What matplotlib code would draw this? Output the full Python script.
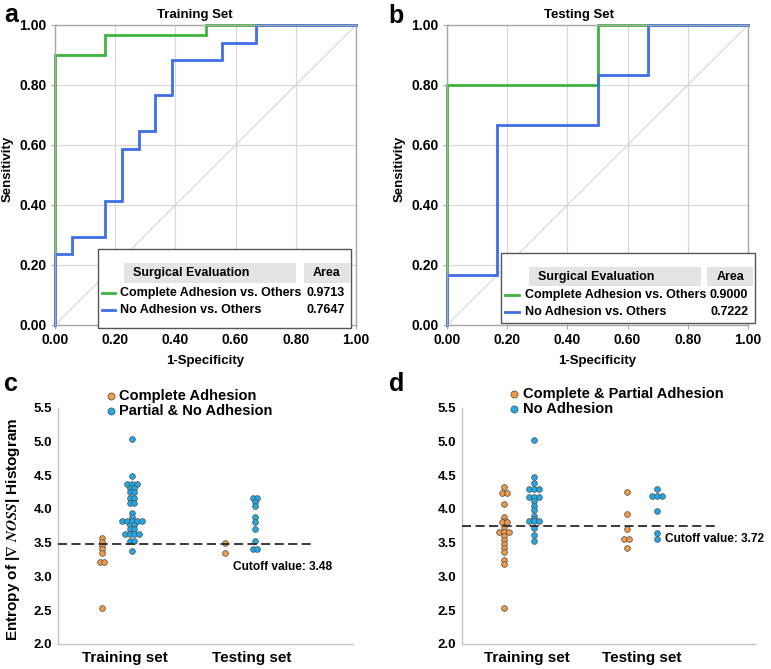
import matplotlib
matplotlib.use('Agg')
import matplotlib.pyplot as plt
from matplotlib.patches import Rectangle
import numpy as np

plt.rcParams['font.family'] = ['Liberation Sans', 'DejaVu Sans']
plt.rcParams['font.weight'] = 'bold'
plt.rcParams['mathtext.fontset'] = 'stix'

# ---------------- data ----------------
# ROC curves (1-specificity, sensitivity)
train_complete_fpr = [0, 0, 0.167, 0.167, 0.5, 0.5, 1.0]
train_complete_tpr = [0, 0.9, 0.9, 0.967, 0.967, 1.0, 1.0]
train_none_fpr = [0, 0, 0.056, 0.056, 0.167, 0.167, 0.222, 0.222, 0.278, 0.278,
                  0.333, 0.333, 0.389, 0.389, 0.556, 0.556, 0.667, 0.667, 1.0]
train_none_tpr = [0, 0.235, 0.235, 0.294, 0.294, 0.412, 0.412, 0.588, 0.588, 0.647,
                  0.647, 0.765, 0.765, 0.882, 0.882, 0.941, 0.941, 1.0, 1.0]
test_complete_fpr = [0, 0, 0.5, 0.5, 1.0]
test_complete_tpr = [0, 0.8, 0.8, 1.0, 1.0]
test_none_fpr = [0, 0, 0.167, 0.167, 0.5, 0.5, 0.667, 0.667, 1.0]
test_none_tpr = [0, 0.167, 0.167, 0.667, 0.667, 0.833, 0.833, 1.0, 1.0]

roc_labels = ['Complete Adhesion vs. Others', 'No Adhesion vs. Others']
train_auc = ['0.9713', '0.7647']
test_auc = ['0.9000', '0.7222']

# Dot plots (entropy values)
c_train_orange = [3.57, 3.51, 3.45, 3.40, 3.35, 3.21, 3.21, 2.53]
c_train_blue = [5.04, 4.49, 4.37, 4.37, 4.37, 4.31, 4.31, 4.25, 4.25, 4.16, 4.16,
                4.09, 4.09, 3.94, 3.88, 3.82, 3.82, 3.82, 3.82, 3.82, 3.76, 3.76,
                3.70, 3.70, 3.63, 3.63, 3.63, 3.63, 3.53, 3.53, 3.38]
c_test_orange = [3.49, 3.35]
c_test_blue = [4.16, 4.16, 4.10, 4.04, 3.88, 3.81, 3.71, 3.53, 3.41, 3.41]

d_train_orange = [4.32, 4.24, 4.24, 4.07, 3.88, 3.82, 3.80, 3.80, 3.73, 3.66, 3.66,
                  3.66, 3.60, 3.54, 3.48, 3.42, 3.36, 3.24, 3.18, 2.53]
d_train_blue = [5.02, 4.48, 4.38, 4.30, 4.30, 4.30, 4.18, 4.18, 4.18, 4.12, 4.05,
                3.98, 3.90, 3.85, 3.82, 3.82, 3.82, 3.72, 3.62, 3.52]
d_test_orange = [4.25, 3.93, 3.71, 3.55, 3.55, 3.42]
d_test_blue = [4.29, 4.19, 4.19, 4.19, 3.97, 3.65, 3.55]

c_legend = ['Complete Adhesion', 'Partial & No Adhesion']
d_legend = ['Complete & Partial Adhesion', 'No Adhesion']
c_cutoff = 3.48
d_cutoff = 3.75
c_cutoff_label = 'Cutoff value: 3.48'
d_cutoff_label = 'Cutoff value: 3.72'
set_labels = ['Training set', 'Testing set']

GREEN = '#3cb43c'
BLUE = '#3f6ee6'
ORANGE = '#f39a44'
SKY = '#1eaaea'
W, H = 771, 669

fig = plt.figure(figsize=(W / 100, H / 100), dpi=100)


def fax(l, t, r, b):
    return fig.add_axes([l / W, 1 - b / H, (r - l) / W, (b - t) / H])


def roc_panel(ax, curves, title, title_x, legend_cfg, aucs):
    ax.set_xlim(0, 1)
    ax.set_ylim(0, 1)
    ticks = np.arange(0, 1.01, 0.2)
    ax.set_xticks(ticks)
    ax.set_yticks(ticks)
    ax.set_xticklabels(['%.2f' % t for t in ticks])
    ax.set_yticklabels(['%.2f' % t for t in ticks])
    ax.grid(True, color='#d8d8d8', lw=0.9)
    ax.set_axisbelow(True)
    for s in ax.spines.values():
        s.set_color('#a8a8a8')
        s.set_linewidth(1.0)
    ax.tick_params(axis='both', length=3, color='#a8a8a8', labelsize=10, pad=3)
    ax.plot([0, 1], [0, 1], color='#d8d8d8', lw=0.9)
    for (fx, ty, col) in curves:
        ax.plot(fx, ty, color=col, lw=2.0, solid_joinstyle='miter', clip_on=False)
    ax.set_title(title, fontsize=9.5, fontweight='bold', x=title_x, pad=5)
    ax.set_xlabel('1-Specificity', fontsize=9.5, fontweight='bold')
    ax.xaxis.set_label_coords(0.5, -0.10)
    ax.set_ylabel('Sensitivity', fontsize=9.5, fontweight='bold')
    ax.yaxis.set_label_coords(-0.138, 0.52)
    # legend table
    bx0, bx1, by0, by1, h1, h2, hy0, hy1, rows, seg, tx, vr = legend_cfg
    tr = ax.transAxes
    ax.add_patch(Rectangle((bx0, by0), bx1 - bx0, by1 - by0, transform=tr, facecolor='white',
                           edgecolor='#555555', lw=1.0, zorder=5, clip_on=False))
    ax.add_patch(Rectangle((h1[0], hy0), h1[1] - h1[0], hy1 - hy0, transform=tr,
                           facecolor='#e4e4e4', edgecolor='none', zorder=6, clip_on=False))
    ax.add_patch(Rectangle((h2[0], hy0), h2[1] - h2[0], hy1 - hy0, transform=tr,
                           facecolor='#e4e4e4', edgecolor='none', zorder=6, clip_on=False))
    hy = (hy0 + hy1) / 2
    ax.text(h1[0] + 0.03, hy, 'Surgical Evaluation', transform=tr, fontsize=9, fontweight='bold',
            va='center', ha='left', zorder=7)
    ax.text((h2[0] + h2[1]) / 2, hy, 'Area', transform=tr, fontsize=9, fontweight='bold',
            va='center', ha='center', zorder=7)
    for ry, lab, a, col in zip(rows, roc_labels, aucs, [GREEN, BLUE]):
        ax.plot(seg, [ry, ry], color=col, lw=2.0, transform=tr, zorder=7, clip_on=False)
        ax.text(tx, ry, lab, transform=tr, fontsize=9, fontweight='bold', va='center',
                ha='left', zorder=7)
        ax.text(vr, ry, a, transform=tr, fontsize=9, fontweight='bold', va='center',
                ha='right', zorder=7)


ax_a = fax(55, 25, 356, 325)
roc_panel(ax_a, [(train_complete_fpr, train_complete_tpr, GREEN),
                 (train_none_fpr, train_none_tpr, BLUE)],
          'Training Set', 0.465,
          (0.142, 0.982, -0.01, 0.252, (0.229, 0.801), (0.827, 0.980), 0.140, 0.206,
           (0.107, 0.050), (0.156, 0.199), 0.216, 0.963), train_auc)

ax_b = fax(447, 25, 748, 325)
roc_panel(ax_b, [(test_complete_fpr, test_complete_tpr, GREEN),
                 (test_none_fpr, test_none_tpr, BLUE)],
          'Testing Set', 0.44,
          (0.181, 1.022, 0.008, 0.239, (0.271, 0.843), (0.865, 1.017), 0.129, 0.194,
           (0.100, 0.042), (0.194, 0.238), 0.258, 1.0), test_auc)

SPACING = 0.0165


def rows(ax, xc, vals, color):
    xs, ys = [], []
    uniq = []
    for v in vals:
        if v not in uniq:
            uniq.append(v)
    for v in uniq:
        n = vals.count(v)
        for i in range(n):
            xs.append(xc + (i - (n - 1) / 2) * SPACING)
            ys.append(v)
    ax.scatter(xs, ys, s=17, c=color, edgecolors='#555555', linewidths=0.55, zorder=3)


def dot_panel(ax, groups, xticks, cutoff, cutoff_end, cut_label, cut_xy, legend, leg_cfg, ylabel):
    ax.set_xlim(0, 1)
    ax.set_ylim(2.0, 5.5)
    ax.set_yticks(np.arange(2.0, 5.51, 0.5))
    ax.set_yticklabels(['%.1f' % v for v in np.arange(2.0, 5.51, 0.5)])
    ax.set_xticks(xticks)
    ax.set_xticklabels(set_labels)
    ax.tick_params(axis='y', length=0, labelsize=9.5, pad=4)
    ax.tick_params(axis='x', length=0, labelsize=11, pad=5)
    for s in ['top', 'right']:
        ax.spines[s].set_visible(False)
    for s in ['left', 'bottom']:
        ax.spines[s].set_color('#c4c4c4')
        ax.spines[s].set_linewidth(1.0)
    for xc, vals, col in groups:
        rows(ax, xc, vals, col)
    ax.plot([0, cutoff_end], [cutoff, cutoff], color='#2a2a2a', lw=1.3,
            dashes=(5, 2.5), zorder=4)
    ax.text(cut_xy[0], cut_xy[1], cut_label, fontsize=8.6, fontweight='bold',
            va='center', ha='left')
    mx, tx, y1, y2 = leg_cfg
    for lab, col, yy in zip(legend, [ORANGE, SKY], [y1, y2]):
        ax.scatter([mx], [yy], s=26, c=col, edgecolors='#555555', linewidths=0.55,
                   transform=ax.transAxes, clip_on=False)
        ax.text(tx, yy, lab, transform=ax.transAxes, fontsize=10.5, fontweight='bold',
                va='center', ha='left')
    if ylabel:
        ax.set_ylabel(ylabel, fontsize=11, fontweight='bold')
        ax.yaxis.set_label_coords(-0.122, 0.487)


ax_c = fax(58, 407.7, 353, 644)
dot_panel(ax_c, [(0.149, c_train_orange, ORANGE), (0.251, c_train_blue, SKY),
                 (0.566, c_test_orange, ORANGE), (0.668, c_test_blue, SKY)],
          [0.227, 0.658], c_cutoff, 0.864, c_cutoff_label, (0.592, 3.14),
          c_legend, (0.180, 0.208, 1.0495, 0.986),
          r'Entropy of |$\nabla$ $\mathit{NOSS}$| Histogram')

ax_d = fax(461.7, 407.7, 755, 644)
dot_panel(ax_d, [(0.145, d_train_orange, ORANGE), (0.247, d_train_blue, SKY),
                 (0.563, d_test_orange, ORANGE), (0.665, d_test_blue, SKY)],
          [0.222, 0.614], d_cutoff, 0.869, d_cutoff_label, (0.693, 3.55),
          d_legend, (0.179, 0.21, 1.058, 0.993), None)

for letter, x, y in [('a', 4, 22), ('b', 388, 23), ('c', 4, 391), ('d', 389, 391)]:
    fig.text(x / W, 1 - y / H, letter, fontsize=18, fontweight='bold', va='baseline', ha='left')

fig.savefig('out.png', dpi=100)
